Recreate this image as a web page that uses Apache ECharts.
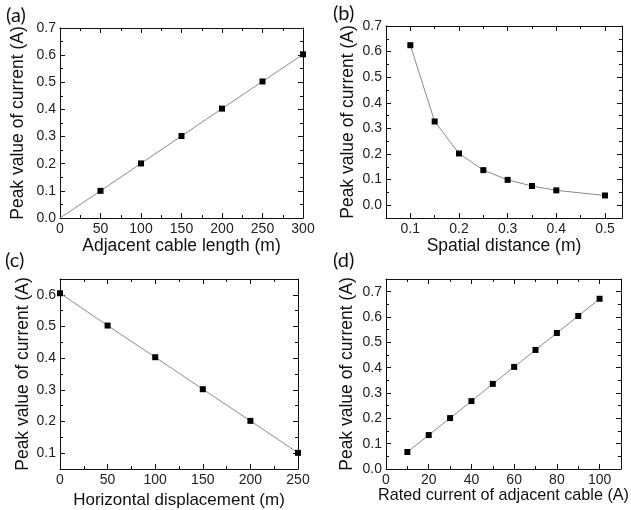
<!DOCTYPE html>
<html>
<head>
<meta charset="utf-8">
<script src="https://cdn.jsdelivr.net/npm/echarts@6/dist/echarts.min.js"></script>
<style>
html,body{margin:0;padding:0;background:#fff;}
#chart{width:631px;height:510px;}
</style>
</head>
<body>
<div id="chart"></div>
<script>
// ---- Data ----
// (a) Adjacent cable length
const aX = [0, 50, 100, 150, 200, 250, 300];
const aY = [0, 0.100, 0.201, 0.302, 0.403, 0.503, 0.603];
// (b) Spatial distance
const bX = [0.1, 0.15, 0.2, 0.25, 0.3, 0.35, 0.4, 0.5];
const bY = [0.625, 0.327, 0.202, 0.137, 0.099, 0.075, 0.058, 0.038];
// (c) Horizontal displacement
const cX = [0, 50, 100, 150, 200, 250];
const cY = [0.605, 0.503, 0.403, 0.302, 0.202, 0.101];
// (d) Rated current of adjacent cable
const dX = [10, 20, 30, 40, 50, 60, 70, 80, 90, 100];
const dY = [0.067, 0.134, 0.201, 0.268, 0.336, 0.403, 0.470, 0.537, 0.604, 0.672];

// tick labels
const aXTicks = [0, 50, 100, 150, 200, 250, 300];
const aYTicks = [0.0, 0.1, 0.2, 0.3, 0.4, 0.5, 0.6, 0.7];
const bXTicks = [0.1, 0.2, 0.3, 0.4, 0.5];
const bYTicks = [0.0, 0.1, 0.2, 0.3, 0.4, 0.5, 0.6, 0.7];
const cXTicks = [0, 50, 100, 150, 200, 250];
const cYTicks = [0.1, 0.2, 0.3, 0.4, 0.5, 0.6];
const dXTicks = [0, 20, 40, 60, 80, 100];
const dYTicks = [0.0, 0.1, 0.2, 0.3, 0.4, 0.5, 0.6, 0.7];

const yTitle = 'Peak value of current (A)';
const panels = [
  {tag:'(a)', x:aX, y:aY, xt:aXTicks, yt:aYTicks, xStep:50, yStep:0.1, xMin:0, xMax:300, yMin:0, yMax:0.7,
   xName:'Adjacent cable length (m)', xDec:0, yDec:1, xFs:17.5,
   grid:{left:60, top:28, width:243, height:190}, xGap:18, yGap:33, tagPos:[6,6], hideFirst:true},
  {tag:'(b)', x:bX, y:bY, xt:bXTicks, yt:bYTicks, xStep:0.1, yStep:0.1, xMin:0.05, xMax:0.535, yMin:-0.05, yMax:0.7,
   xName:'Spatial distance (m)', xDec:1, yDec:1, xFs:17.5,
   grid:{left:386, top:26, width:236, height:192}, xGap:18, yGap:29, tagPos:[333,4]},
  {tag:'(c)', x:cX, y:cY, xt:cXTicks, yt:cYTicks, xStep:50, yStep:0.1, xMin:0, xMax:250, yMin:0.05, yMax:0.65,
   xName:'Horizontal displacement (m)', xDec:0, yDec:1, xFs:17,
   grid:{left:60, top:279, width:238, height:191}, xGap:23, yGap:28, tagPos:[5,251]},
  {tag:'(d)', x:dX, y:dY, xt:dXTicks, yt:dYTicks, xStep:20, yStep:0.1, xMin:0, xMax:110, yMin:0, yMax:0.75,
   xName:'Rated current of adjacent cable (A)', xDec:0, yDec:1, xFs:16.2,
   grid:{left:386, top:279, width:243, height:190}, xGap:18, yGap:30, tagPos:[333,251]}
];

function minors(ticks, step, lo, hi) {
  const out = [];
  const first = ticks[0] - step;
  for (let v = first; v <= hi + 1e-9; v += step) {
    const m = +(v + step / 2).toFixed(6);
    if (m >= lo - 1e-9 && m <= hi + 1e-9) out.push(m);
  }
  return out;
}

const FONT = 'Liberation Sans';
const LINE_COL = '#111';
const grids = [], xAxes = [], yAxes = [], series = [], graphics = [];

panels.forEach((p, i) => {
  grids.push(Object.assign({containLabel:false}, p.grid));
  const xMinor = minors(p.xt, p.xStep, p.xMin, p.xMax);
  const yMinor = minors(p.yt, p.yStep, p.yMin, p.yMax);
  const mk = (kind, pos, major, main) => {
    const isX = kind === 'x';
    const ax = {
      type:'value', gridIndex:i, position:pos,
      min: isX ? p.xMin : p.yMin, max: isX ? p.xMax : p.yMax,
      splitLine:{show:false},
      axisLine:{show: major, onZero:false, lineStyle:{color:LINE_COL, width:1}},
      axisTick:{show:true, inside:true, length: major ? 5 : 3,
        customValues: major ? (isX ? p.xt : p.yt) : (isX ? xMinor : yMinor),
        lineStyle:{color:LINE_COL, width:1}},
      axisLabel:{show:false}
    };
    if (main) {
      ax.axisLabel = {show:true, customValues: isX ? p.xt : p.yt,
        formatter: v => (+v).toFixed(isX ? p.xDec : p.yDec),
        fontFamily:FONT, fontSize:14, color:'#222', margin: 4};
      ax.name = isX ? p.xName : yTitle;
      ax.nameLocation = 'middle';
      ax.nameGap = isX ? p.xGap : p.yGap;
      ax.nameTextStyle = {fontFamily:FONT, fontSize: isX ? p.xFs : 17.5, color:'#111'};
    }
    return ax;
  };
  const xMainIdx = xAxes.length;
  xAxes.push(mk('x','bottom',true,true));
  xAxes.push(mk('x','bottom',false,false));
  xAxes.push(mk('x','top',true,false));
  xAxes.push(mk('x','top',false,false));
  const yMainIdx = yAxes.length;
  yAxes.push(mk('y','left',true,true));
  yAxes.push(mk('y','left',false,false));
  yAxes.push(mk('y','right',true,false));
  yAxes.push(mk('y','right',false,false));

  const data = p.x.map((xv, k) => {
    const item = {value:[xv, p.y[k]]};
    if (p.hideFirst && k === 0) item.symbol = 'none';
    return item;
  });
  series.push({
    type:'line', xAxisIndex:xMainIdx, yAxisIndex:yMainIdx, data,
    symbol:'rect', symbolSize:6, showSymbol:true,
    itemStyle:{color:'#000'},
    lineStyle:{color:'#8a8a8a', width:1},
    animation:false, silent:true, z:3
  });
  graphics.push({type:'text', left:p.tagPos[0], top:p.tagPos[1],
    style:{text:p.tag, font:'20px Lato', fill:'#111'}});
});

const chart = echarts.init(document.getElementById('chart'), null, {renderer:'canvas'});
chart.setOption({
  backgroundColor:'#fff',
  animation:false,
  grid:grids, xAxis:xAxes, yAxis:yAxes, series, graphic:graphics
});
</script>
</body>
</html>
